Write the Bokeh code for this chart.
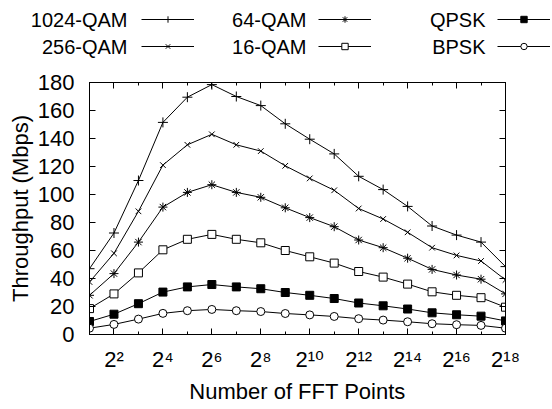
from bokeh.plotting import figure
from bokeh.layouts import column
from bokeh.models import (FixedTicker, LinearAxis, LogAxis, Legend, LegendItem,
                          Label, Range1d, CustomJSTickFormatter)
from bokeh.embed import file_html
from bokeh.resources import INLINE

# ---------------- data ----------------
fft_points = [2, 4, 8, 16, 32, 64, 128, 256, 512, 1024, 2048, 4096,
              8192, 16384, 32768, 65536, 131072, 262144]

qam1024 = [47, 72.5, 110, 151.5, 169.5, 178.5, 170, 163.5, 150.5, 139.5,
           129, 113, 103.5, 91.5, 77.5, 71, 66, 48.5]
qam256 = [37.5, 58, 88, 121, 135.5, 143, 135.5, 131, 120.5, 111.5,
          103, 90, 82.5, 73, 62, 56.5, 52.5, 39]
qam64 = [28, 43.5, 66, 91, 101.5, 107, 101.5, 98, 90.5, 83.5,
         77, 67.5, 62, 54.5, 46.5, 42.5, 39.5, 29]
qam16 = [18.5, 29, 44, 60.5, 68, 71.5, 68, 65.5, 60, 55.5,
         51, 45, 41, 36, 30.5, 28, 26.3, 19.5]
qpsk = [9.3, 14.5, 22, 30.3, 34, 35.7, 34, 32.7, 30, 28,
        25.7, 22.5, 20.5, 18.2, 15.5, 14.1, 13.1, 9.7]
bpsk = [4.5, 7.2, 11, 15.1, 17, 17.9, 17, 16.4, 15, 14,
        12.9, 11.3, 10.3, 9.1, 7.7, 7, 6.5, 4.5]

series_names = ["1024-QAM", "256-QAM", "64-QAM", "16-QAM", "QPSK", "BPSK"]
series_values = [qam1024, qam256, qam64, qam16, qpsk, bpsk]
series_markers = ["cross", "x", "asterisk", "square", "square", "circle"]
series_fill = ["black", "black", "black", "white", "black", "white"]
series_size = [10, 8, 9, 8, 8, 8]

x_major_ticks = [4, 16, 64, 256, 1024, 4096, 16384, 65536, 262144]
x_major_labels = ["2\u00b2", "2\u2074", "2\u2076", "2\u2078", "2\u00b9\u2070",
                  "2\u00b9\u00b2", "2\u00b9\u2074", "2\u00b9\u2076", "2\u00b9\u2078"]
x_minor_ticks = [2, 8, 32, 128, 512, 2048, 8192, 32768, 131072]
y_ticks = [0, 20, 40, 60, 80, 100, 120, 140, 160, 180]

FONT = "Liberation Sans"
SUP_FONT = "Liberation Sans, DejaVu Sans"

# ---------------- main figure ----------------
p = figure(width=552, height=349, output_backend="svg", toolbar_location=None,
           x_axis_type="log", x_range=Range1d(2, 262144), y_range=Range1d(0, 180),
           min_border_left=89, min_border_right=47, min_border_top=22,
           min_border_bottom=75)
p.frame_align = False
p.xgrid.visible = False
p.ygrid.visible = False
p.outline_line_color = "black"
p.outline_line_width = 1
p.outline_line_alpha = 1

xt = FixedTicker(ticks=x_major_ticks, minor_ticks=x_minor_ticks)
yt = FixedTicker(ticks=y_ticks, minor_ticks=[])

def style_axis(ax):
    ax.axis_line_color = "black"
    ax.major_tick_line_color = "black"
    ax.minor_tick_line_color = "black"
    ax.major_tick_in = 6
    ax.major_tick_out = 0
    ax.minor_tick_in = 3
    ax.minor_tick_out = 0
    ax.major_label_text_font = FONT
    ax.major_label_text_font_size = "22px"
    ax.major_label_text_color = "black"
    ax.axis_label_text_font = FONT
    ax.axis_label_text_font_size = "22px"
    ax.axis_label_text_font_style = "normal"
    ax.axis_label_text_color = "black"

xa = p.xaxis[0]
style_axis(xa)
xa.ticker = xt
xa.major_label_overrides = dict(zip(x_major_ticks, x_major_labels))
xa.major_label_text_font = SUP_FONT
xa.major_label_standoff = 12
xa.axis_label = "Number of FFT Points"
xa.axis_label_standoff = 4

ya = p.yaxis[0]
style_axis(ya)
ya.ticker = yt
ya.major_label_standoff = 15
ya.axis_label = "Throughput (Mbps)"
ya.axis_label_standoff = 2

top = LogAxis(ticker=xt, formatter=CustomJSTickFormatter(code="return ''"))
style_axis(top)
top.major_label_standoff = 0
top.major_label_text_font_size = "1px"
p.add_layout(top, "above")
right = LinearAxis(ticker=yt, formatter=CustomJSTickFormatter(code="return ''"))
style_axis(right)
right.major_label_standoff = 0
right.major_label_text_font_size = "1px"
p.add_layout(right, "right")

for name, vals, mk, fc, sz in zip(series_names, series_values, series_markers,
                                  series_fill, series_size):
    p.line(fft_points, vals, line_color="black", line_width=1)
    p.scatter(fft_points, vals, marker=mk, size=sz, line_color="black",
              fill_color=fc, line_width=1)

# ---------------- legend strip (gnuplot style: text then sample) ----------------
# The strip's ranges are chosen so that the series drawn in it fall outside
# its frame; only their legend samples are visible.
lf = figure(width=552, height=60, output_backend="svg", toolbar_location=None,
            x_range=Range1d(0, 1), y_range=Range1d(0, 1),
            x_axis_location=None, y_axis_location=None,
            min_border_left=0, min_border_right=0, min_border_top=0,
            min_border_bottom=0, outline_line_color=None)
lf.frame_align = False
lf.grid.visible = False

legend_renderers = []
for vals, mk, fc, sz in zip(series_values, series_markers, series_fill, series_size):
    ln = lf.line(fft_points, vals, line_color="black", line_width=1)
    sc = lf.scatter(fft_points, vals, marker=mk, size=sz,
                    line_color="black", fill_color=fc, line_width=1)
    legend_renderers.append([ln, sc])

legend_columns = [[0, 1], [2, 3], [4, 5]]
legend_sample_x = [141, 318, 497]    # left of sample line, px in strip
legend_text_x = [127, 306, 485]      # right edge of text, px in strip
legend_row_y = [41, 14]              # px from strip bottom

for col, idxs in enumerate(legend_columns):
    items = [LegendItem(label=" ", renderers=legend_renderers[i]) for i in idxs]
    lg = Legend(items=items, location=(legend_sample_x[col], 6),
                orientation="vertical", glyph_width=53, glyph_height=16,
                label_width=0, label_height=16, label_standoff=0,
                label_text_font_size="1px", spacing=11, padding=0, margin=0,
                border_line_color=None, background_fill_alpha=0)
    lf.add_layout(lg, "center")
    for row, i in enumerate(idxs):
        lf.add_layout(Label(x=legend_text_x[col], y=legend_row_y[row],
                            x_units="screen", y_units="screen",
                            text=series_names[i], text_align="right",
                            text_baseline="middle", text_font=FONT,
                            text_font_size="20px", text_color="black"))

layout = column(lf, p, spacing=0)
open("out.html", "w").write(file_html(layout, INLINE))
